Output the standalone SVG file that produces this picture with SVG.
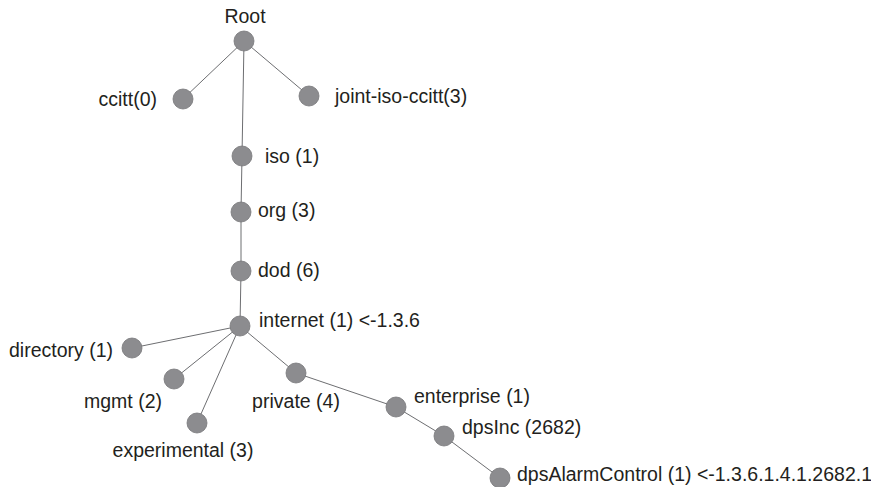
<svg xmlns="http://www.w3.org/2000/svg" width="871" height="487" viewBox="0 0 871 487">
<style>
.bg{fill:#ffffff}
.edge{stroke:#6d6e71;stroke-width:1;fill:none}
.node circle{fill:#8c8c8f;stroke:#77777a;stroke-width:0.8}
.node text{font-family:"Liberation Sans",Arial,sans-serif;font-size:19.5px;fill:#231f20}
</style>
<rect class="bg" x="0" y="0" width="871" height="487"/>
<g id="connectors">
<line class="edge" x1="244" y1="41" x2="183" y2="99"/>
<line class="edge" x1="244" y1="41" x2="309" y2="96"/>
<line class="edge" x1="244" y1="41" x2="242" y2="156"/>
<line class="edge" x1="242" y1="156" x2="241" y2="212"/>
<line class="edge" x1="241" y1="212" x2="241" y2="271"/>
<line class="edge" x1="241" y1="271" x2="240" y2="326"/>
<line class="edge" x1="240" y1="326" x2="132" y2="348"/>
<line class="edge" x1="240" y1="326" x2="174" y2="379"/>
<line class="edge" x1="240" y1="326" x2="197" y2="423"/>
<line class="edge" x1="240" y1="326" x2="296" y2="373"/>
<line class="edge" x1="296" y1="373" x2="396" y2="407"/>
<line class="edge" x1="396" y1="407" x2="444" y2="436"/>
<line class="edge" x1="444" y1="436" x2="500" y2="478"/>
</g>
<g id="root" class="node"><circle cx="244" cy="41" r="10"/><text x="245" y="23" text-anchor="middle">Root</text></g>
<g id="ccitt" class="node"><circle cx="183" cy="99" r="10"/><text x="157" y="106" text-anchor="end">ccitt(0)</text></g>
<g id="joint-iso-ccitt" class="node"><circle cx="309" cy="96" r="10"/><text x="335" y="103">joint-iso-ccitt(3)</text></g>
<g id="iso" class="node"><circle cx="242" cy="156" r="10"/><text x="265" y="163">iso (1)</text></g>
<g id="org" class="node"><circle cx="241" cy="212" r="10"/><text x="258" y="217">org (3)</text></g>
<g id="dod" class="node"><circle cx="241" cy="271" r="10"/><text x="258" y="277">dod (6)</text></g>
<g id="internet" class="node"><circle cx="240" cy="326" r="10"/><text x="259" y="327">internet (1) &lt;-1.3.6</text></g>
<g id="directory" class="node"><circle cx="132" cy="348" r="10"/><text x="113" y="357" text-anchor="end">directory (1)</text></g>
<g id="mgmt" class="node"><circle cx="174" cy="379" r="10"/><text x="162" y="408" text-anchor="end">mgmt (2)</text></g>
<g id="experimental" class="node"><circle cx="197" cy="423" r="10"/><text x="183" y="457" text-anchor="middle">experimental (3)</text></g>
<g id="private" class="node"><circle cx="296" cy="373" r="10"/><text x="296" y="408" text-anchor="middle">private (4)</text></g>
<g id="enterprise" class="node"><circle cx="396" cy="407" r="10"/><text x="414" y="403">enterprise (1)</text></g>
<g id="dpsInc" class="node"><circle cx="444" cy="436" r="10"/><text x="462" y="434">dpsInc (2682)</text></g>
<g id="dpsAlarmControl" class="node"><circle cx="500" cy="478" r="10"/><text x="517" y="481">dpsAlarmControl (1) &lt;-1.3.6.1.4.1.2682.1</text></g>
</svg>
